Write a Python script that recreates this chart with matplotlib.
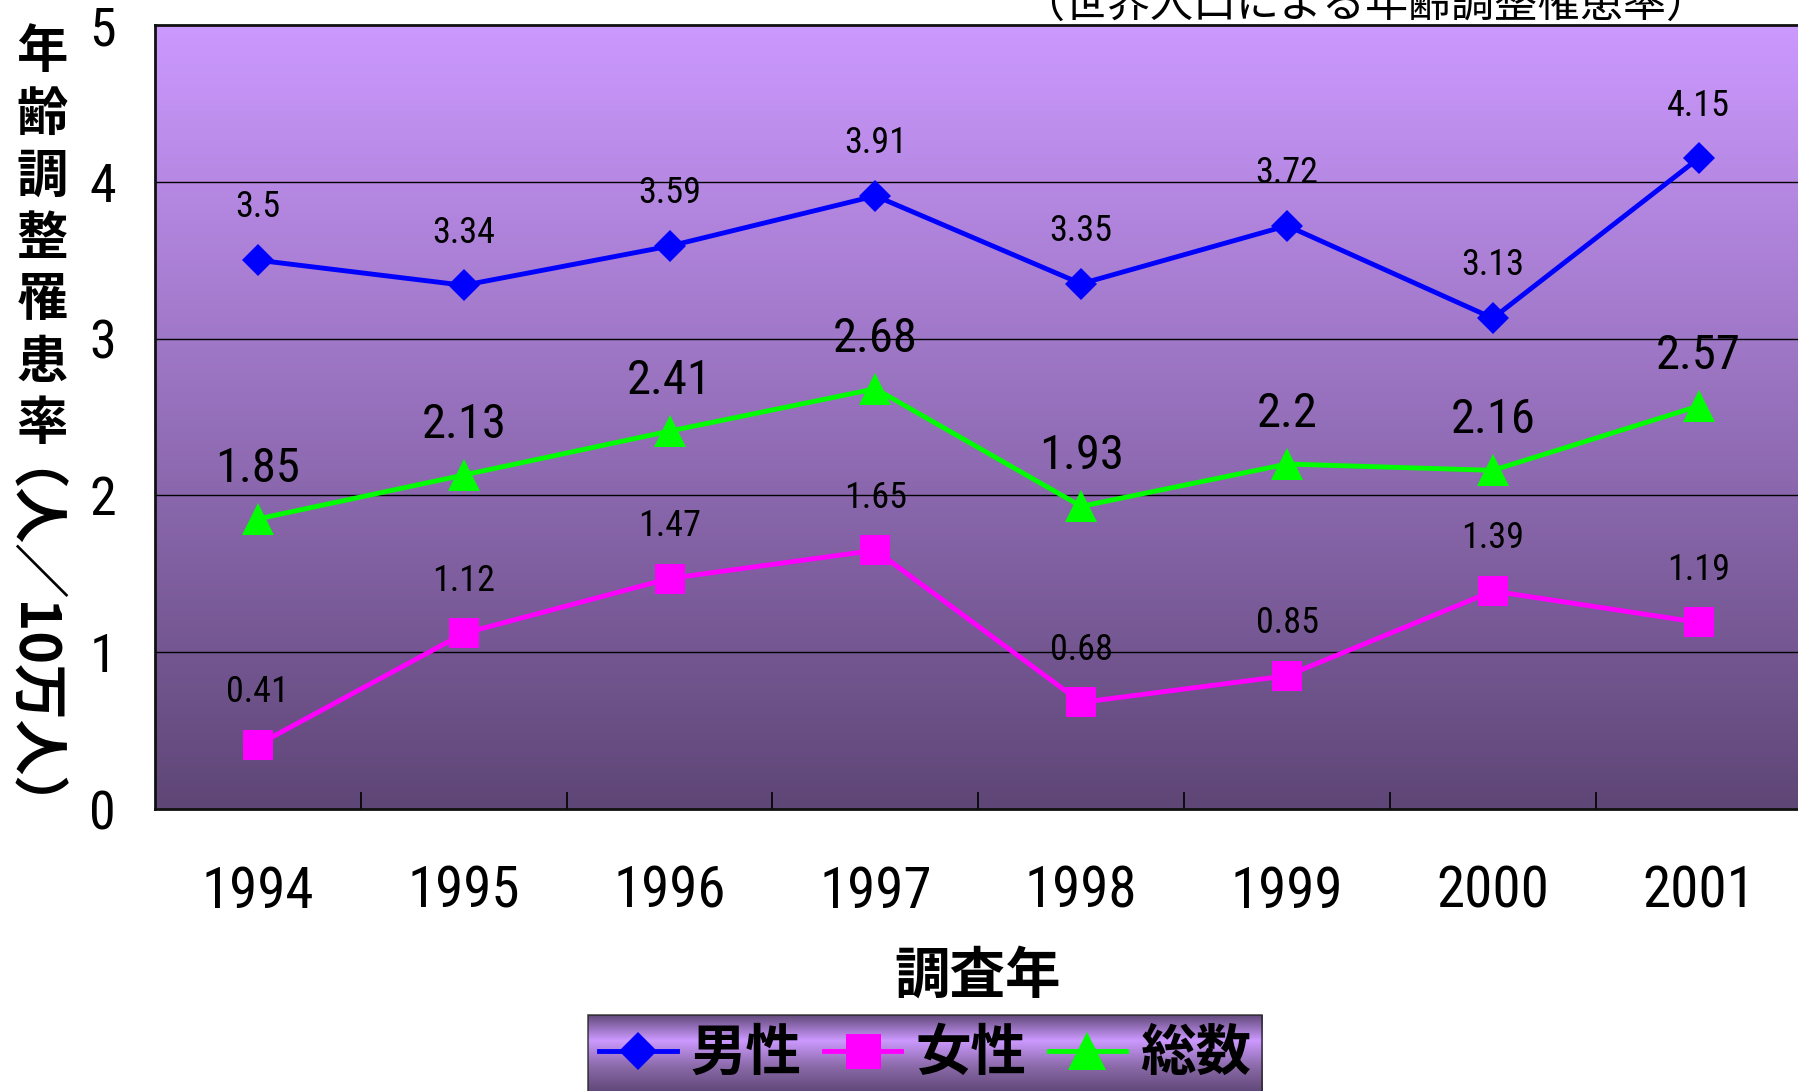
import numpy as np
import matplotlib
matplotlib.use("Agg")
import matplotlib.pyplot as plt
from matplotlib import font_manager
from matplotlib.font_manager import FontProperties
from matplotlib.colors import LinearSegmentedColormap

# data
years = ['1994', '1995', '1996', '1997', '1998', '1999', '2000', '2001']
male = [3.5, 3.34, 3.59, 3.91, 3.35, 3.72, 3.13, 4.15]
female = [0.41, 1.12, 1.47, 1.65, 0.68, 0.85, 1.39, 1.19]
total = [1.85, 2.13, 2.41, 2.68, 1.93, 2.2, 2.16, 2.57]
yticks = [0, 1, 2, 3, 4, 5]

JP = 'Noto Sans CJK JP'
plt.rcParams['font.family'] = [JP, 'DejaVu Sans']

# pick a narrow face for the numbers if one is around
num_family, num_stretch = JP, 'normal'
entries = font_manager.fontManager.ttflist
names = {f.name for f in entries}
for cand in ['Liberation Sans Narrow', 'Arial Narrow', 'Roboto Condensed',
             'Open Sans Condensed', 'DejaVu Sans Condensed']:
    if cand in names:
        num_family = cand
        break
else:
    for f in entries:
        if f.name == 'DejaVu Sans' and str(f.stretch) in ('condensed', 'semi-condensed'):
            num_family, num_stretch = 'DejaVu Sans', 'condensed'
            break


def numfont(size):
    return FontProperties(family=num_family, stretch=num_stretch, size=size)


W, H = 1798, 1091
fig = plt.figure(figsize=(W / 100, H / 100), dpi=100)
ax = fig.add_axes([155 / W, 1 - 809 / H, 1 - 155 / W + 0.002, (809 - 25) / H])

x = np.arange(len(years))
ax.set_xlim(-0.5, len(years) - 0.5)
ax.set_ylim(0, 5)

# gradient plot background
bg = LinearSegmentedColormap.from_list('bg', ['#5e4676', '#cc99ff'])
grad = np.linspace(0, 1, 256).reshape(-1, 1)
ax.imshow(grad, cmap=bg, aspect='auto', origin='lower',
          extent=(-0.5, len(years) - 0.5, 0, 5), zorder=0)

for v in yticks[1:-1]:
    ax.axhline(v, color='black', lw=1.0, zorder=1)

series = [
    (male, '男性', '#0000ff', 'D', 16, 26, 38),
    (female, '女性', '#ff00ff', 's', 21, 26, 38),
    (total, '総数', '#00ff00', '^', 23, 35, 36),
]
handles = []
for vals, lab, col, mk, ms, fs, off in series:
    h, = ax.plot(x, vals, color=col, lw=3.5, marker=mk, markersize=ms,
                 markeredgewidth=0, label=lab, zorder=3)
    handles.append(h)
    for xi, v in zip(x, vals):
        ax.annotate(f'{v:g}', (xi, v), xytext=(0, off), textcoords='offset points',
                    ha='center', va='center', fontproperties=numfont(fs), zorder=4)

ax.set_yticks(yticks)
ax.set_yticklabels([str(t) for t in yticks], fontproperties=numfont(39))
ax.tick_params(axis='y', length=0, pad=28)
ax.set_xticks(x)
ax.set_xticklabels(years, fontproperties=numfont(41))
ax.tick_params(axis='x', which='major', length=0, pad=40)
ax.set_xticks(np.arange(0.5, len(years) - 0.5), minor=True)
ax.tick_params(axis='x', which='minor', direction='in', length=12, width=1.2)
for s in ax.spines.values():
    s.set_linewidth(2)
    s.set_color('#111111')

fig.text(978 / W, 1 - 977 / H, '調査年', ha='center', va='center',
         fontsize=40, fontweight='bold')

# vertical y label: upright kanji then rotated unit
ylab_top = '年齢調整罹患率'
for i, ch in enumerate(ylab_top):
    fig.text(42 / W, 1 - (52 + i * 62) / H, ch, ha='center', va='center',
             fontsize=37, fontweight='bold')
fig.text(-17 / W, 1 - 667 / H, '（人／10万人）', ha='center', va='baseline',
         rotation=270, rotation_mode='anchor', fontsize=40, fontweight='bold')

fig.text(1365 / W, 1 - 28 / H, '（世界人口による年齢調整罹患率）', ha='center',
         va='bottom', fontsize=31)

leg = fig.legend(handles=handles, loc='upper center', ncol=3,
                 bbox_to_anchor=(925 / W, 1 - 1015 / H), frameon=True,
                 prop={'family': JP, 'size': 40, 'weight': 'bold'},
                 handlelength=1.4, handletextpad=0.25, columnspacing=0.4,
                 borderpad=0.2, borderaxespad=0, fancybox=False, markerscale=1.2)
fr = leg.get_frame()
fr.set_facecolor('none')
fr.set_edgecolor('#222222')
fr.set_linewidth(1.2)

# gradient behind the legend
fig.canvas.draw()
bb = leg.get_window_extent().transformed(fig.transFigure.inverted())
lax = fig.add_axes([bb.x0, bb.y0, bb.width, bb.height], zorder=1)
lg = LinearSegmentedColormap.from_list('lg', ['#5e4676', '#cc99ff', '#8a6aa8', '#5e4676'])
lax.imshow(np.linspace(0, 1, 256).reshape(-1, 1), cmap=lg, aspect='auto')
lax.set_axis_off()
leg.set_zorder(5)

fig.savefig('out.png', dpi=100)
